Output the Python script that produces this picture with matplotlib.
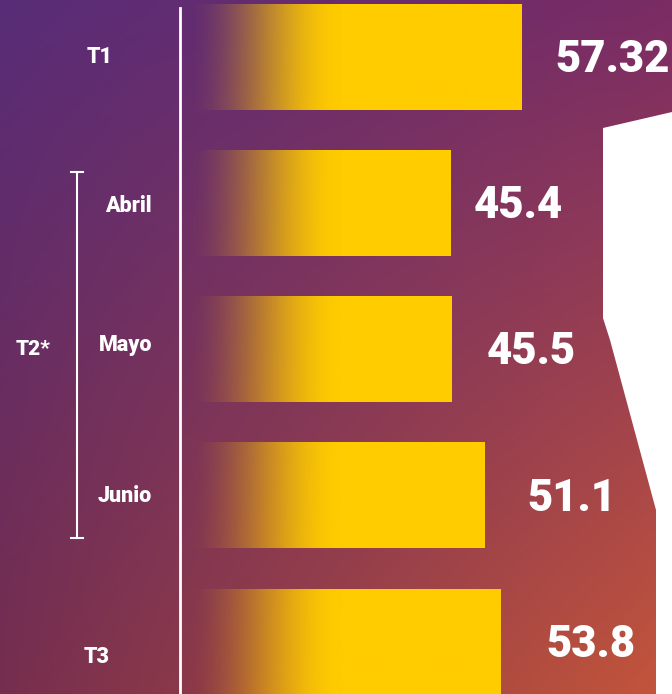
import matplotlib
matplotlib.use("Agg")
import matplotlib.pyplot as plt
import numpy as np
from matplotlib.patches import Polygon
import matplotlib.transforms as mtransforms

# DONNEES
categories = ["T1", "Abril", "Mayo", "Junio", "T3"]
valeurs = [57.32, 45.4, 45.5, 51.1, 53.8]
etiquettes = ["57.32", "45.4", "45.5", "51.1", "53.8"]
groupe = "T2*"

# STYLE
jaune = "#FFCC00"
blanc = "#FFFFFF"
police = "Roboto"
W, H = 672, 694
px_par_unite = 5.96
x0_px = 180

fig = plt.figure(figsize=(W / 100, H / 100), dpi=100)

# fond en degrade violet -> rouge orange
bg = fig.add_axes([0, 0, 1, 1])
bg.set_axis_off()
tl = np.array([88, 44, 120]) / 255
tr = np.array([122, 44, 100]) / 255
bl = np.array([118, 46, 78]) / 255
br = np.array([196, 86, 58]) / 255
u = np.linspace(0, 1, 200)[None, :, None]
v = np.linspace(0, 1, 200)[:, None, None]
img = (1 - v) * ((1 - u) * tl + u * tr) + v * ((1 - u) * bl + u * br)
bg.imshow(img, extent=(0, 1, 0, 1), aspect="auto", origin="upper")
bg.set_xlim(0, 1)
bg.set_ylim(0, 1)

# forme blanche a droite
forme = [(603, 128), (672, 112), (672, 694), (656, 694), (656, 510), (610, 340), (603, 318)]
forme = [(x / W, 1 - y / H) for x, y in forme]
bg.add_patch(Polygon(forme, closed=True, facecolor=blanc, edgecolor="none"))

# axe principal
ax = fig.add_axes([0, 0, 1, 1])
ax.patch.set_alpha(0)
ax.set_axis_off()
pas = 146.25
y_haut = 57
ax.set_xlim(-x0_px / px_par_unite, (W - x0_px) / px_par_unite)
ax.set_ylim((H - y_haut) / pas, -y_haut / pas)

y = np.arange(len(categories))
hauteur = 0.72
grad = np.zeros((1, 300, 4))
grad[..., 0:3] = matplotlib.colors.to_rgb(jaune)
for i, val in enumerate(valeurs):
    xs = np.linspace(0, val, 300)
    t = np.clip((xs - 1.0) / 26.0, 0, 1)
    grad[0, :, 3] = t * t * (3 - 2 * t)
    ax.imshow(grad.copy(), extent=(0, val, y[i] + hauteur / 2, y[i] - hauteur / 2),
              aspect="auto", zorder=2, interpolation="bilinear")

# etiquettes de valeur
decalages = [5.6, 3.9, 5.9, 7.2, 7.7]
for i, val in enumerate(valeurs):
    ax.text(val + decalages[i], y[i] + 0.02, etiquettes[i], color=blanc, fontsize=31.5,
            family=police, fontweight="black", va="center", ha="left", zorder=3)

# ligne verticale blanche
ax.axvline(0, ymin=0, ymax=1 - 8 / H, color=blanc, linewidth=2, zorder=4)

# etiquettes a gauche
trans = mtransforms.blended_transform_factory(ax.transAxes, ax.transData)
pos_gauche = [100, 128, 126, 125, 97]
ajust_y = [0, 0.02, -0.03, 0, 0.1]
for i, cat in enumerate(categories):
    ax.text(pos_gauche[i] / W, y[i] + ajust_y[i], cat, transform=trans, color=blanc,
            fontsize=15.5, family=police, fontweight="black", ha="center", va="center")

# crochet T2*
xb = 77 / W
yb0, yb1 = (172 - y_haut) / pas, (538 - y_haut) / pas
ax.plot([xb, xb], [yb0, yb1], transform=trans, color=blanc, linewidth=1.5)
for yy in (yb0, yb1):
    ax.plot([xb - 6 / W, xb + 6 / W], [yy, yy], transform=trans, color=blanc, linewidth=1.5)
ax.text(33 / W, 2.0, groupe, transform=trans, color=blanc, fontsize=15,
        family=police, fontweight="black", ha="center", va="center")

fig.savefig("out.png", dpi=100)
